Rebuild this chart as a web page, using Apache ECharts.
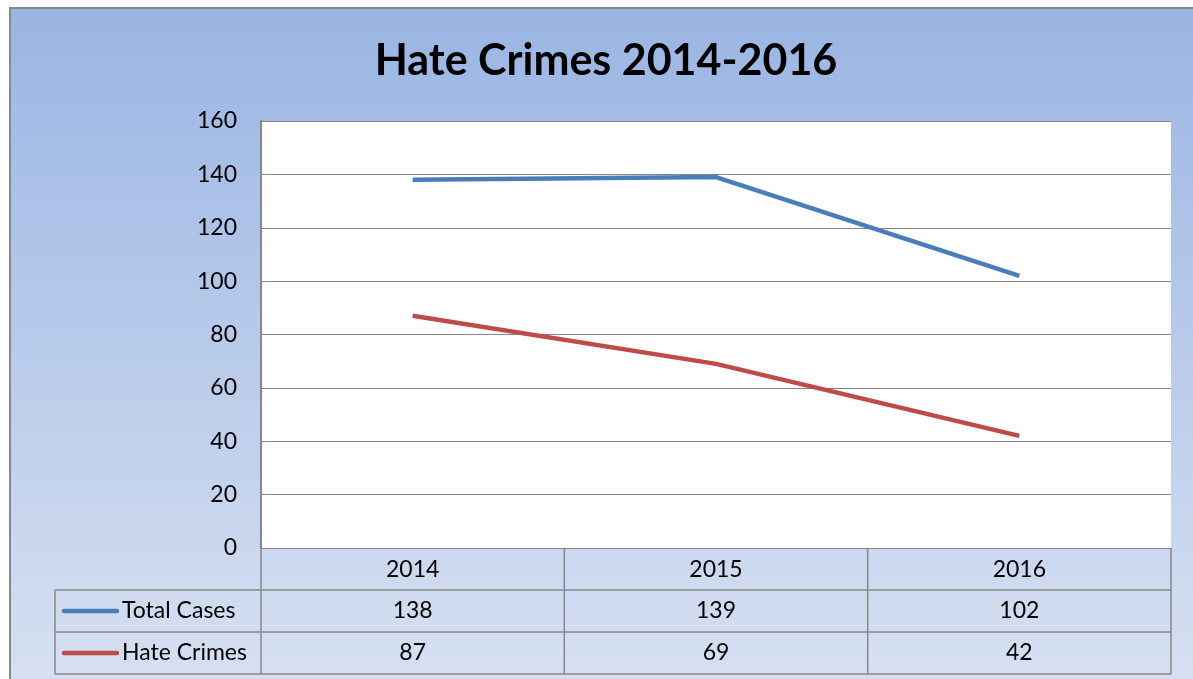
<!DOCTYPE html>
<html>
<head>
<meta charset="utf-8">
<script src="https://cdn.jsdelivr.net/npm/echarts@6/dist/echarts.min.js"></script>
<style>
  html, body { margin: 0; padding: 0; background: #fff; }
  #chart { width: 1193px; height: 679px; }
</style>
</head>
<body>
<div id="chart"></div>
<script>
// Yearly counts
const years = ['2014', '2015', '2016'];
const totalCases = [138, 139, 102];
const hateCrimes = [87, 69, 42];
const seriesNames = ['Total Cases', 'Hate Crimes'];
const seriesColors = ['#4a7ebb', '#be4b48'];
const yTicks = { min: 0, max: 160, interval: 20 };

const FONT = 'Lato, "Open Sans", sans-serif';
const GRID = { left: 261, right: 22, top: 121, bottom: 131 };
const ROW_H = 42;
const TABLE_LEFT = 55;
const LINE_COLOR = '#878787';
const TEXT_SIZE = 23;

const chart = echarts.init(document.getElementById('chart'), null, { renderer: 'canvas' });

const option = {
  animation: false,
  backgroundColor: '#ffffff',
  title: {
    text: 'Hate Crimes 2014-2016',
    left: 601,
    top: 35,
    textAlign: 'center',
    textStyle: { fontFamily: FONT, fontSize: 43, fontWeight: 'bold', color: '#000' }
  },
  grid: Object.assign({ show: true, backgroundColor: '#ffffff', borderWidth: 0 }, GRID),
  xAxis: {
    type: 'category',
    data: years,
    boundaryGap: true,
    axisLine: { show: true, lineStyle: { color: LINE_COLOR, width: 1 } },
    axisTick: { show: false },
    axisLabel: { show: false },
    splitLine: { show: false }
  },
  yAxis: {
    type: 'value',
    min: yTicks.min,
    max: yTicks.max,
    interval: yTicks.interval,
    axisLine: { show: true, lineStyle: { color: LINE_COLOR, width: 2 } },
    axisTick: { show: false },
    axisLabel: { fontFamily: FONT, fontSize: TEXT_SIZE, color: '#000', margin: 24 },
    splitLine: { show: true, lineStyle: { color: LINE_COLOR, width: 1 } }
  },
  series: [
    {
      name: seriesNames[0], type: 'line', data: totalCases,
      symbol: 'none', lineStyle: { color: seriesColors[0], width: 4.5 }, z: 3
    },
    {
      name: seriesNames[1], type: 'line', data: hateCrimes,
      symbol: 'none', lineStyle: { color: seriesColors[1], width: 4.5 }, z: 3
    }
  ]
};
chart.setOption(option);

// Data table under the plot, aligned to the category axis
const centers = years.map((y, i) => chart.convertToPixel({ xAxisIndex: 0 }, i));
const step = centers[1] - centers[0];
const bounds = [centers[0] - step / 2].concat(centers.map(c => c + step / 2));
const top0 = chart.convertToPixel({ yAxisIndex: 0 }, yTicks.min);
const rowTops = [top0, top0 + ROW_H, top0 + 2 * ROW_H, top0 + 3 * ROW_H];
const right = bounds[bounds.length - 1];

const els = [];
// chart area background with frame
els.push({
  type: 'rect', z: -100, silent: true,
  shape: { x: 10, y: 8, width: 1300, height: 800 },
  style: {
    fill: new echarts.graphic.LinearGradient(0, 0, 0, 1, [
      { offset: 0, color: '#9ab5e3' },
      { offset: 1, color: '#e2e8f4' }
    ]),
    stroke: '#888888', lineWidth: 2
  }
});
function line(x1, y1, x2, y2) {
  els.push({ type: 'line', silent: true, z: 5,
    shape: { x1, y1, x2, y2 },
    style: { stroke: LINE_COLOR, lineWidth: 1.5 } });
}
function text(str, x, y, align) {
  els.push({ type: 'text', silent: true, z: 6, x, y,
    style: { text: str, fill: '#000', font: TEXT_SIZE + 'px ' + FONT, align: align || 'center', verticalAlign: 'middle' } });
}
// vertical cell borders
bounds.forEach(x => line(x, rowTops[0], x, rowTops[3]));
line(TABLE_LEFT, rowTops[1], TABLE_LEFT, rowTops[3]);
// horizontal cell borders
line(TABLE_LEFT, rowTops[1], right, rowTops[1]);
line(TABLE_LEFT, rowTops[2], right, rowTops[2]);
line(TABLE_LEFT, rowTops[3], right, rowTops[3]);
// header: years
years.forEach((y, i) => text(y, centers[i], (rowTops[0] + rowTops[1]) / 2 + 1));
// series rows
[totalCases, hateCrimes].forEach((vals, r) => {
  const cy = (rowTops[r + 1] + rowTops[r + 2]) / 2;
  els.push({ type: 'line', silent: true, z: 6,
    shape: { x1: 64, y1: cy, x2: 117, y2: cy },
    style: { stroke: seriesColors[r], lineWidth: 4.5, lineCap: 'round' } });
  text(seriesNames[r], 122, cy, 'left');
  vals.forEach((v, i) => text(String(v), centers[i], cy));
});

chart.setOption({ graphic: { elements: els } });
</script>
</body>
</html>
